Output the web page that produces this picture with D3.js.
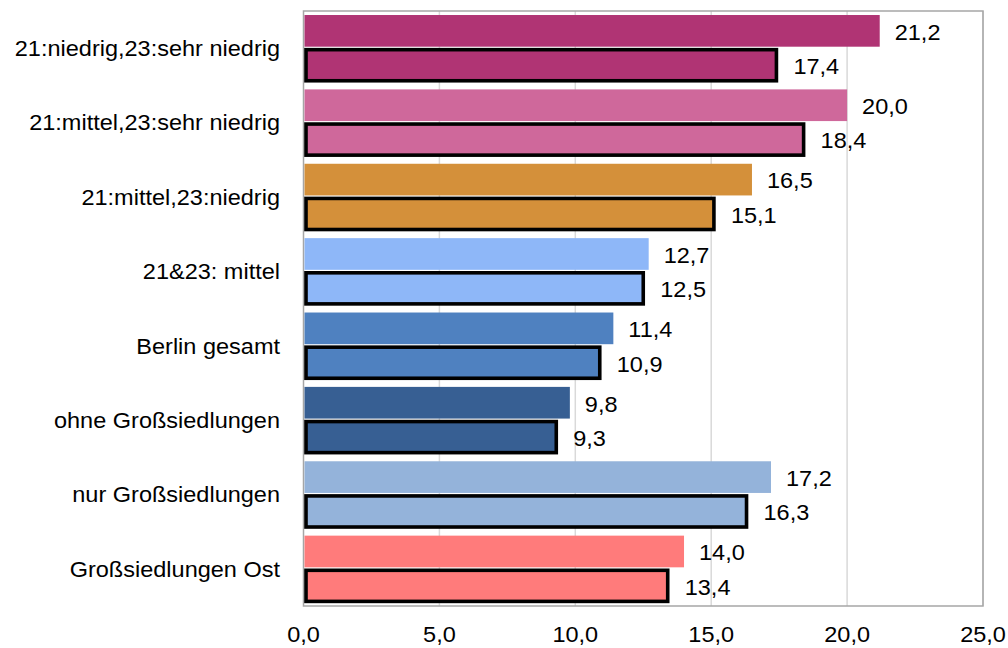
<!DOCTYPE html>
<html>
<head>
<meta charset="utf-8">
<script src="https://cdn.jsdelivr.net/npm/d3@7"></script>
<style>
  html, body { margin: 0; padding: 0; background: #fff; }
  svg { display: block; font-family: "Liberation Sans", Arial, sans-serif; }
</style>
</head>
<body>
<svg id="chart" width="1008" height="648"></svg>
<script>
// Categories (top to bottom) and the two compared years
const categories = [
  "21:niedrig,23:sehr niedrig",
  "21:mittel,23:sehr niedrig",
  "21:mittel,23:niedrig",
  "21&23: mittel",
  "Berlin gesamt",
  "ohne Großsiedlungen",
  "nur Großsiedlungen",
  "Großsiedlungen Ost"
];
const values2021 = [21.2, 20.0, 16.5, 12.7, 11.4, 9.8, 17.2, 14.0];
const values2023 = [17.4, 18.4, 15.1, 12.5, 10.9, 9.3, 16.3, 13.4];
const barColors = ["#B03474", "#CF689B", "#D4903A", "#8EB7F8", "#4F81C0", "#375F93", "#94B3DA", "#FF7B7B"];
const xTicks = [0, 5, 10, 15, 20, 25];

const svg = d3.select("#chart");
const plotLeft = 303.5, plotRight = 983, plotTop = 11, plotBottom = 606;
const fmt = v => d3.format(".1f")(v).replace(".", ",");
const fontSize = 22.5, stretch = 1.045;

const x = d3.scaleLinear().domain([0, 25]).range([plotLeft, plotRight]);
const y = d3.scaleBand().domain(categories).range([plotTop, plotBottom]).padding(0);
const bw = y.bandwidth();

// vertical gridlines
svg.append("g").selectAll("line").data(xTicks.slice(1)).join("line")
  .attr("x1", d => x(d)).attr("x2", d => x(d))
  .attr("y1", plotTop).attr("y2", plotBottom)
  .attr("stroke", "#d9d9d9").attr("stroke-width", 1.5);

// plot frame
svg.append("rect")
  .attr("x", plotLeft).attr("y", plotTop)
  .attr("width", plotRight - plotLeft).attr("height", plotBottom - plotTop)
  .attr("fill", "none").attr("stroke", "#a6a6a6").attr("stroke-width", 1.5);

const groups = svg.append("g").selectAll("g").data(categories).join("g")
  .attr("transform", d => `translate(0,${y(d)})`);

// first bar in each group (no outline)
groups.append("rect")
  .attr("x", x(0) + 1)
  .attr("y", bw * 0.054)
  .attr("width", (d, i) => x(values2021[i]) - x(0) - 1)
  .attr("height", bw * 0.426)
  .attr("fill", (d, i) => barColors[i]);

// second bar in each group (thick black outline)
groups.append("rect")
  .attr("x", x(0) + 2.5)
  .attr("y", bw * 0.52)
  .attr("width", (d, i) => x(values2023[i]) - x(0) - 2.5)
  .attr("height", bw * 0.418)
  .attr("fill", (d, i) => barColors[i])
  .attr("stroke", "#000").attr("stroke-width", 3.6);

function addText(sel, tx, ty, anchor) {
  return sel.append("text")
    .attr("transform", `translate(${tx},${ty}) scale(${stretch},1)`)
    .attr("text-anchor", anchor)
    .attr("dominant-baseline", "central")
    .attr("font-size", fontSize)
    .attr("fill", "#000");
}

// value labels and category labels
groups.each(function(d, i) {
  const g = d3.select(this);
  addText(g, x(values2021[i]) + 15, bw * 0.054 + bw * 0.426 / 2 + 1, "start").text(fmt(values2021[i]));
  addText(g, x(values2023[i]) + 17, bw * 0.52 + bw * 0.418 / 2 + 1, "start").text(fmt(values2023[i]));
  addText(g, 280, bw / 2, "end").text(d);
});

// x tick labels
svg.append("g").selectAll("g").data(xTicks).join("g").each(function(d) {
  addText(d3.select(this), x(d), 634, "middle").text(fmt(d));
});
</script>
</body>
</html>
